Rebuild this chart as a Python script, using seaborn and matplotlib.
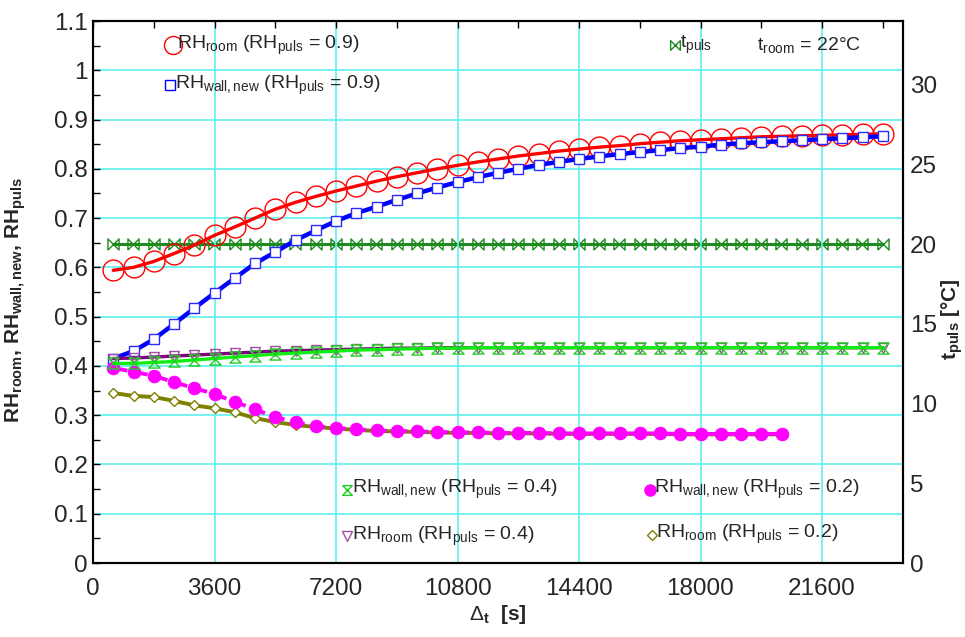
import matplotlib
matplotlib.use('Agg')
import matplotlib.pyplot as plt
import seaborn as sns
import numpy as np
from matplotlib.ticker import MultipleLocator, FuncFormatter

# time steps [s]
times = [600, 1200, 1800, 2400, 3000, 3600, 4200, 4800, 5400, 6000,
         6600, 7200, 7800, 8400, 9000, 9600, 10200, 10800, 11400, 12000,
         12600, 13200, 13800, 14400, 15000, 15600, 16200, 16800, 17400, 18000,
         18600, 19200, 19800, 20400, 21000, 21600, 22200, 22800, 23400]

# RH_puls = 0.9
rh_room_09 = [0.594, 0.600, 0.612, 0.628, 0.645, 0.665, 0.682, 0.700, 0.718, 0.732,
              0.744, 0.755, 0.765, 0.775, 0.784, 0.792, 0.800, 0.807, 0.814, 0.820,
              0.826, 0.831, 0.836, 0.840, 0.844, 0.847, 0.851, 0.854, 0.857, 0.859,
              0.861, 0.863, 0.865, 0.866, 0.867, 0.868, 0.869, 0.870, 0.871]
rh_wall_09 = [0.415, 0.430, 0.454, 0.485, 0.517, 0.548, 0.578, 0.608, 0.631, 0.655,
              0.675, 0.694, 0.710, 0.723, 0.737, 0.750, 0.762, 0.773, 0.783, 0.792,
              0.800, 0.808, 0.814, 0.820, 0.825, 0.830, 0.834, 0.838, 0.842, 0.845,
              0.849, 0.852, 0.854, 0.856, 0.858, 0.860, 0.862, 0.864, 0.866]

# RH_puls = 0.4
rh_room_04 = [0.415, 0.416, 0.418, 0.420, 0.422, 0.424, 0.426, 0.428, 0.430, 0.431,
              0.432, 0.433, 0.434, 0.435, 0.436, 0.436, 0.437, 0.437, 0.437, 0.437,
              0.437, 0.437, 0.437, 0.437, 0.437, 0.437, 0.437, 0.437, 0.437, 0.437,
              0.437, 0.437, 0.437, 0.437, 0.437, 0.437, 0.437, 0.437, 0.437]
rh_wall_04 = [0.405, 0.405, 0.407, 0.409, 0.412, 0.415, 0.418, 0.421, 0.424, 0.426,
              0.428, 0.430, 0.432, 0.433, 0.434, 0.435, 0.436, 0.436, 0.437, 0.437,
              0.437, 0.437, 0.437, 0.437, 0.437, 0.437, 0.437, 0.437, 0.437, 0.437,
              0.437, 0.437, 0.437, 0.437, 0.437, 0.437, 0.437, 0.437, 0.437]

# RH_puls = 0.2 (shorter run)
times_02 = [600, 1200, 1800, 2400, 3000, 3600, 4200, 4800, 5400, 6000,
            6600, 7200, 7800, 8400, 9000, 9600, 10200, 10800, 11400, 12000,
            12600, 13200, 13800, 14400, 15000, 15600, 16200, 16800, 17400, 18000,
            18600, 19200, 19800, 20400]
rh_wall_02 = [0.396, 0.388, 0.380, 0.367, 0.355, 0.343, 0.327, 0.312, 0.296, 0.286,
              0.278, 0.274, 0.271, 0.269, 0.268, 0.267, 0.266, 0.265, 0.265, 0.264,
              0.264, 0.264, 0.263, 0.263, 0.263, 0.263, 0.263, 0.263, 0.262, 0.262,
              0.262, 0.262, 0.262, 0.262]
rh_room_02 = [0.345, 0.339, 0.337, 0.329, 0.320, 0.314, 0.306, 0.294, 0.286, 0.280,
              0.276, 0.273, 0.270, 0.268, 0.267, 0.266, 0.265, 0.264, 0.264, 0.263,
              0.263, 0.263, 0.262, 0.262, 0.262, 0.262, 0.262, 0.262, 0.261, 0.261,
              0.261, 0.261, 0.261, 0.261]

# pulse temperature [°C]
t_puls = [20, 20, 20, 20, 20, 20, 20, 20, 20, 20, 20, 20, 20, 20, 20, 20, 20, 20, 20, 20,
          20, 20, 20, 20, 20, 20, 20, 20, 20, 20, 20, 20, 20, 20, 20, 20, 20, 20, 20]

x_ticks = [0, 3600, 7200, 10800, 14400, 18000, 21600]

sns.set_style('white')
plt.rcParams['font.family'] = ['Liberation Sans', 'DejaVu Sans']
plt.rcParams['mathtext.fontset'] = 'custom'
plt.rcParams['mathtext.rm'] = 'Liberation Sans'
plt.rcParams['mathtext.it'] = 'Liberation Sans'
plt.rcParams['mathtext.bf'] = 'Liberation Sans:bold'

hourglass = [(-1, 1), (1, 1), (-1, -1), (1, -1), (-1, 1)]
bowtie = [(-1, -1), (-1, 1), (1, -1), (1, 1), (-1, -1)]

fig = plt.figure(figsize=(9.65, 6.37), dpi=100)
ax = fig.add_axes([93 / 965, 74 / 637, 810 / 965, 542 / 637])
ax2 = ax.twinx()
ax.set_zorder(ax2.get_zorder() + 1)
ax.patch.set_visible(False)

grid_c = '#5ff0f0'

# right axis: pulse temperature
sns.lineplot(x=times, y=t_puls, ax=ax2, color='#1f8a1f', linewidth=2.2,
             marker=bowtie, markersize=8, markerfacecolor='none',
             markeredgecolor='#1f8a1f', markeredgewidth=1.0)

sns.lineplot(x=times, y=rh_room_09, ax=ax, color='#ff0000', linewidth=2.4,
             marker='o', markersize=15, markerfacecolor='none',
             markeredgecolor='#ff0000', markeredgewidth=1.0)
sns.lineplot(x=times, y=rh_wall_09, ax=ax, color='#0000ff', linewidth=3.2,
             marker='s', markersize=7.5, markerfacecolor='white',
             markeredgecolor='#2a2aff', markeredgewidth=1.0)
sns.lineplot(x=times_02, y=rh_room_02, ax=ax, color='#808000', linewidth=2.8,
             marker='D', markersize=5.5, markerfacecolor='white',
             markeredgecolor='#808000', markeredgewidth=1.0)
sns.lineplot(x=times_02, y=rh_wall_02, ax=ax, color='#ff00ff', linewidth=2.8,
             linestyle='--', marker='o', markersize=9, markerfacecolor='#ff00ff',
             markeredgecolor='#ff00ff')
sns.lineplot(x=times, y=rh_room_04, ax=ax, color='#800080', linewidth=2.4,
             marker='v', markersize=7, markerfacecolor='none',
             markeredgecolor='#a050a0', markeredgewidth=1.0)
sns.lineplot(x=times, y=rh_wall_04, ax=ax, color='#11ee11', linewidth=2.4,
             marker=hourglass, markersize=8, markerfacecolor='none',
             markeredgecolor='#22cc22', markeredgewidth=1.0)

ax.set_xlim(0, 24000)
ax.set_ylim(0, 1.1)
ax2.set_ylim(0, 34)

ax.set_xticks(x_ticks)
ax.xaxis.set_minor_locator(MultipleLocator(1800))
ax.yaxis.set_major_locator(MultipleLocator(0.1))
ax.yaxis.set_minor_locator(MultipleLocator(0.05))
ax.yaxis.set_major_formatter(FuncFormatter(lambda v, p: f'{v:g}' if v < 1.15 else ''))
ax2.set_yticks([0, 5, 10, 15, 20, 25, 30])

ax.grid(True, which='major', color=grid_c, linewidth=1.2)
ax.set_axisbelow(True)
ax.tick_params(which='both', direction='in', top=True, right=False, labelsize=17.5,
               color='black', width=1.0, length=5)
ax.tick_params(axis='x', pad=11)
ax.tick_params(axis='y', pad=4)
ax2.tick_params(axis='y', length=0, labelsize=17.5, pad=5)

for a in (ax, ax2):
    for s in a.spines.values():
        s.set_color('black')
        s.set_linewidth(1.5)

ax.set_xlabel(r'$\Delta_{\bf t}$  [s]', fontsize=15, fontweight='bold', labelpad=2)
ax.set_ylabel(r'RH$_{\bf room}$, RH$_{\bf wall,new}$, RH$_{\bf puls}$',
              fontsize=15, fontweight='bold')
ax.yaxis.set_label_coords(-0.08, 0.485)
ax2.set_ylabel(r't$_{\bf puls}$ [°C]', fontsize=15, fontweight='bold', rotation=90)
ax2.yaxis.set_label_coords(1.045, 0.45)

# in-plot legend entries
def entry(mx, my, marker, ms, fc, ec, tx, text):
    ax.plot([mx], [my], transform=ax.transAxes, marker=marker, markersize=ms,
            markerfacecolor=fc, markeredgecolor=ec, linestyle='none', clip_on=False)
    ax.text(tx, my, text, transform=ax.transAxes, fontsize=14, va='center', ha='left')

entry(0.099, 0.955, 'o', 13, 'none', '#ff0000', 0.104,
      r'RH$_{\rm room}$ (RH$_{\rm puls}$ = 0.9)')
entry(0.095, 0.882, 's', 7, 'none', '#0000ff', 0.101,
      r'RH$_{\rm wall,new}$ (RH$_{\rm puls}$ = 0.9)')
entry(0.719, 0.955, bowtie, 7, 'none', '#1f8a1f', 0.725,
      r't$_{\rm puls}$')
ax.text(0.82, 0.955, r't$_{\rm room}$ = 22°C', transform=ax.transAxes,
        fontsize=14, va='center', ha='left')
entry(0.314, 0.135, hourglass, 7, 'none', '#22cc22', 0.32,
      r'RH$_{\rm wall,new}$ (RH$_{\rm puls}$ = 0.4)')
entry(0.314, 0.05, 'v', 7, 'none', '#a050a0', 0.32,
      r'RH$_{\rm room}$ (RH$_{\rm puls}$ = 0.4)')
entry(0.688, 0.135, 'o', 8, '#ff00ff', '#ff00ff', 0.693,
      r'RH$_{\rm wall,new}$ (RH$_{\rm puls}$ = 0.2)')
entry(0.69, 0.052, 'D', 5, 'none', '#808000', 0.695,
      r'RH$_{\rm room}$ (RH$_{\rm puls}$ = 0.2)')

fig.savefig('out.png', dpi=100)
